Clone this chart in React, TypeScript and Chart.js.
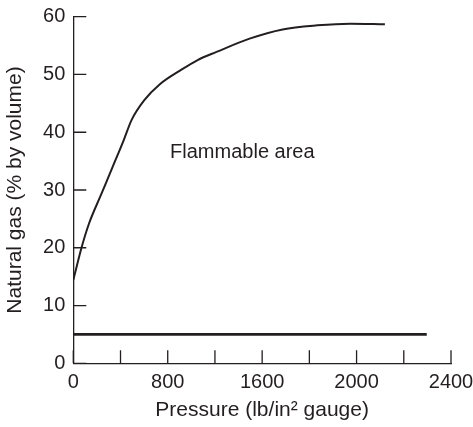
import { useEffect, useRef } from 'react';
import { Chart, registerables } from 'chart.js';

Chart.register(...registerables);

// x axis: tick positions (scale units) and the printed labels
const X_TICK_VALUES = [0, 300, 600, 900, 1200, 1500, 1800, 2100, 2400];
const X_TICK_LABELS = ['0', '', '800', '', '1600', '', '2000', '', '2400'];
const Y_TICKS = [0, 10, 20, 30, 40, 50, 60];

// upper flammability limit curve
const CURVE_P = [0, 20, 50, 100, 175, 250, 320, 370, 450, 550, 680, 790, 910, 1120, 1330, 1550, 1760, 1980];
const CURVE_V = [14.4, 16.6, 19.8, 24.2, 29.1, 34, 38.6, 42.1, 45.5, 48.3, 50.7, 52.5, 53.9, 56.2, 57.8, 58.5, 58.8, 58.7];

// lower flammability limit line
const LOWER_P = [0, 2246];
const LOWER_V = [5, 5];

const AREA_LABEL = 'Flammable area';
const AREA_LABEL_P = 615;
const AREA_LABEL_V = 36.5;

const INK = '#231f20';
const FONT = "'Liberation Sans', Arial, Helvetica, sans-serif";

const innerTicks = {
  id: 'innerTicks',
  afterDraw(chart: any) {
    const { ctx, chartArea: a, scales } = chart;
    ctx.save();
    ctx.strokeStyle = INK;
    ctx.lineWidth = 1.3;
    ctx.beginPath();
    scales.x.ticks.forEach((t: any) => {
      const px = scales.x.getPixelForValue(t.value);
      ctx.moveTo(px, a.bottom);
      ctx.lineTo(px, a.bottom - 13);
    });
    scales.y.ticks.forEach((t: any) => {
      const py = scales.y.getPixelForValue(t.value);
      ctx.moveTo(a.left, py);
      ctx.lineTo(a.left + 13, py);
    });
    ctx.stroke();
    ctx.fillStyle = INK;
    ctx.font = `20px ${FONT}`;
    ctx.textAlign = 'left';
    ctx.textBaseline = 'middle';
    ctx.fillText(AREA_LABEL, scales.x.getPixelForValue(AREA_LABEL_P), scales.y.getPixelForValue(AREA_LABEL_V));
    ctx.restore();
  },
};

export default function App() {
  const ref = useRef<HTMLCanvasElement | null>(null);
  useEffect(() => {
    if (!ref.current) return;
    const chart = new Chart(ref.current, {
      type: 'line',
      data: {
        datasets: [
          {
            data: CURVE_P.map((p, i) => ({ x: p, y: CURVE_V[i] })),
            borderColor: INK,
            borderWidth: 2,
            pointRadius: 0,
            cubicInterpolationMode: 'monotone',
            fill: false,
          },
          {
            data: LOWER_P.map((p, i) => ({ x: p, y: LOWER_V[i] })),
            borderColor: INK,
            borderWidth: 2.7,
            pointRadius: 0,
            fill: false,
          },
        ],
      },
      options: {
        animation: false,
        responsive: false,
        events: [],
        layout: { padding: { top: 16.7, right: 22, left: 0, bottom: 0 } },
        plugins: { legend: { display: false }, tooltip: { enabled: false } },
        scales: {
          x: {
            type: 'linear',
            min: 0,
            max: 2400,
            afterBuildTicks: (s: any) => {
              s.ticks = X_TICK_VALUES.map((v) => ({ value: v }));
            },
            afterFit: (s: any) => {
              s.height = 63.7;
              s.paddingLeft = 0;
              s.paddingRight = 0;
            },
            grid: { display: true, drawOnChartArea: false, drawTicks: false },
            border: { display: true, color: INK, width: 1.3 },
            ticks: {
              autoSkip: false,
              maxRotation: 0,
              padding: 7,
              color: INK,
              font: { size: 20, family: FONT },
              callback: (_v: any, i: number) => X_TICK_LABELS[i],
            },
            title: {
              display: true,
              text: 'Pressure (lb/in² gauge)',
              color: INK,
              font: { size: 21, family: FONT },
              padding: { top: 0, bottom: 4 },
            },
          },
          y: {
            type: 'linear',
            min: 0,
            max: 60,
            afterBuildTicks: (s: any) => {
              s.ticks = Y_TICKS.map((v) => ({ value: v }));
            },
            afterFit: (s: any) => {
              s.width = 73.3;
              s.paddingTop = 0;
              s.paddingBottom = 0;
            },
            grid: { display: true, drawOnChartArea: false, drawTicks: false },
            border: { display: true, color: INK, width: 1.3 },
            ticks: {
              padding: 8,
              color: INK,
              font: { size: 20, family: FONT },
            },
            title: {
              display: true,
              text: 'Natural gas (% by volume)',
              color: INK,
              font: { size: 21, family: FONT },
              padding: { top: 3, bottom: 0 },
            },
          },
        },
      },
      plugins: [innerTicks],
    });
    return () => chart.destroy();
  }, []);
  return (
    <div style={{ position: 'absolute', left: 0, top: 0, width: 473, height: 427, background: '#fff' }}>
      <canvas ref={ref} width={473} height={427} />
    </div>
  );
}
